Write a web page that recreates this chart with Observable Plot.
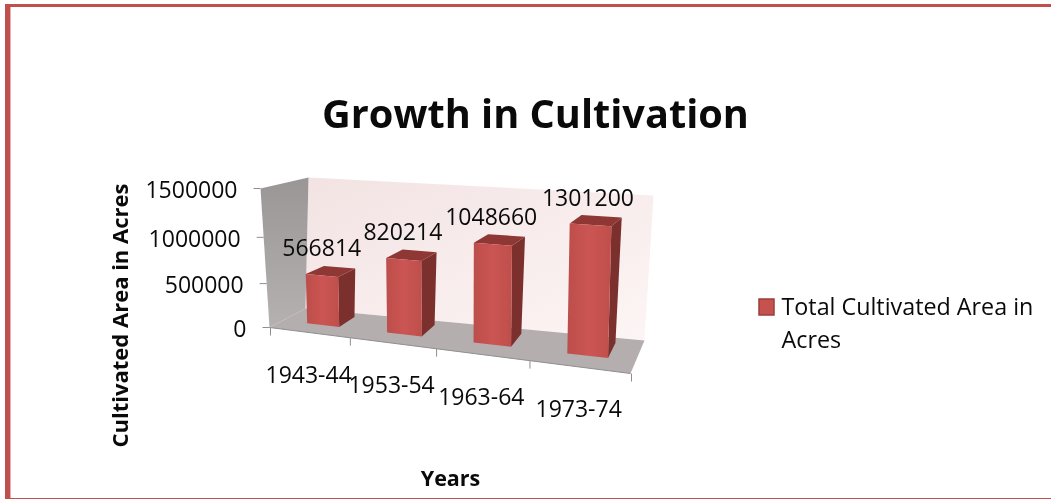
<!DOCTYPE html>
<html>
<head>
<meta charset="utf-8">
<script src="https://cdn.jsdelivr.net/npm/d3@7"></script>
<script src="https://cdn.jsdelivr.net/npm/@observablehq/plot@0.6"></script>
<style>
html,body{margin:0;padding:0;background:#fff;overflow:hidden}
#page{position:relative;width:1051px;height:499px;overflow:hidden}
#page svg{position:absolute;left:0;top:0;background:transparent;filter:blur(.35px);font-variant-ligatures:none}
.edge{position:absolute;background:#c0504d}
</style>
</head>
<body>
<div id="page">
  <div class="edge" style="left:5px;top:4px;width:1046px;height:3px"></div>
  <div class="edge" style="left:5px;top:4px;width:5px;height:495px"></div>
  <div class="edge" style="left:10px;top:7px;width:1px;height:492px;opacity:.45"></div>
  <div class="edge" style="left:5px;top:498px;width:1046px;height:1px"></div>
</div>
<script>
// ---- chart data ----
const chartTitle = "Growth in Cultivation";
const years = ["1943-44", "1953-54", "1963-64", "1973-74"];
const cultivated = [566814, 820214, 1048660, 1301200];
const valueTicks = [0, 500000, 1000000, 1500000];
const xTitle = "Years";
const yTitle = "Cultivated Area in Acres";
const legendLines = ["Total Cultivated Area in", "Acres"];

// ---- perspective of the 3-D box: its eight corners on screen ----
const W = 1051, H = 499, vMax = 1500000;
const box = {
  fl0: [269, 327], fr0: [630, 373], bl0: [305, 308], br0: [644, 340],
  fl1: [260, 188], fr1: [632, 212], bl1: [308, 177], br1: [653, 195]
};
const warp = (t, g) => t * g / (1 + t * (g - 1));
const mix = (a, b, t) => [a[0] + (b[0] - a[0]) * t, a[1] + (b[1] - a[1]) * t];
function P(slot, value, depth) {
  const s = warp(slot / years.length, 0.852);
  const v = warp(value / vMax, 0.923);
  const low = mix(mix(box.fl0, box.fr0, s), mix(box.bl0, box.br0, s), depth);
  const high = mix(mix(box.fl1, box.fr1, s), mix(box.bl1, box.br1, s), depth);
  const p = mix(low, high, v);
  return {x: p[0], y: p[1]};
}
const barU = [0.32, 0.73], barW = [0.37, 0.84];

const faceMark = (faces, fill) => Plot.line(faces.flatMap((f, i) => f.map(p => ({...p, id: i}))),
  {x: "x", y: "y", z: "id", fill, stroke: "none"});

const fronts = cultivated.map((v, i) => {
  const a = i + barU[0], b = i + barU[1], w = barW[0];
  return [P(a, 0, w), P(b, 0, w), P(b, v, w), P(a, v, w)];
});
const sides = cultivated.map((v, i) => {
  const b = i + barU[1];
  return [P(b, 0, barW[0]), P(b, 0, barW[1]), P(b, v, barW[1]), P(b, v, barW[0])];
});
const tops = cultivated.map((v, i) => {
  const a = i + barU[0], b = i + barU[1];
  return [P(a, v, barW[0]), P(b, v, barW[0]), P(b, v, barW[1]), P(a, v, barW[1])];
});

const n = years.length;
const gradient = (id, x2, y2, stops) => {
  const g = d3.create("svg:linearGradient").attr("id", id)
    .attr("x1", 0).attr("y1", 0).attr("x2", x2).attr("y2", y2);
  stops.forEach(([o, c]) => g.append("stop").attr("offset", o).attr("stop-color", c));
  return g.node();
};
const defs = () => {
  const d = d3.create("svg:defs");
  d.append(() => gradient("wallBack", 1, 1, [[0, "#f3e3e3"], [1, "#fdf5f5"]]));
  d.append(() => gradient("wallLeft", 0, 1, [[0, "#9a9696"], [1, "#b5b1b1"]]));
  d.append(() => gradient("barFront", 1, 0, [[0, "#bd4e4b"], [0.5, "#cb5552"], [1, "#bf4f4c"]]));
  return d.node();
};

const textStyle = {fontFamily: "'Open Sans', sans-serif", fill: "#0a0a0a"};
const legendBox = {x1: 759, x2: 774, y1: 299, y2: 315};

const chart = Plot.plot({
  width: W, height: H, margin: 0,
  style: {background: "transparent"},
  x: {domain: [0, W], range: [0, W], axis: null},
  y: {domain: [0, H], range: [0, H], axis: null},
  marks: [
    defs,
    faceMark([[P(0, 0, 1), P(n, 0, 1), P(n, vMax, 1), P(0, vMax, 1)]], "url(#wallBack)"),
    faceMark([[P(0, 0, 0), P(0, 0, 1), P(0, vMax, 1), P(0, vMax, 0)]], "url(#wallLeft)"),
    faceMark([[P(0, 0, 0), P(n, 0, 0), P(n, 0, 1), P(0, 0, 1)]], "#b4aeae"),
    // axis lines and ticks
    Plot.link([0], {x1: () => P(0, 0, 0).x, y1: () => P(0, 0, 0).y, x2: () => P(n, 0, 0).x, y2: () => P(n, 0, 0).y, stroke: "#8f8f8f"}),
    Plot.link(valueTicks, {x1: d => P(0, d, 0).x, y1: d => P(0, d, 0).y, x2: d => P(0, d, 0).x - 7, y2: d => P(0, d, 0).y, stroke: "#8f8f8f"}),
    Plot.link(d3.range(n + 1), {x1: d => P(d, 0, 0).x + 1, y1: d => P(d, 0, 0).y, x2: d => P(d, 0, 0).x + 1, y2: d => P(d, 0, 0).y + 8, stroke: "#8f8f8f"}),
    // bars, each drawn side, top, front
    faceMark(sides, "#7c302e"),
    faceMark(tops, "#8e3734"),
    faceMark(fronts, "url(#barFront)"),
    // value labels
    Plot.text(cultivated, {
      x: (d, i) => P(i + 0.5, d, 0.5).x, y: (d, i) => P(i + 0.5, d, 0.5).y,
      text: d => String(d), dx: -3, dy: -24, fontSize: 23, ...textStyle
    }),
    // value axis labels
    Plot.text(valueTicks, {
      x: d => P(0, d, 0).x, y: d => P(0, d, 0).y,
      text: d => String(d), textAnchor: "end", dx: -23, dy: 2, fontSize: 23, ...textStyle
    }),
    // category labels
    Plot.text(years, {
      x: (d, i) => P(i + 0.5, 0, 0).x, y: (d, i) => P(i + 0.5, 0, 0).y,
      text: d => d, dy: 43, fontSize: 23, ...textStyle
    }),
    // titles
    Plot.text([chartTitle], {x: [535], y: [115], text: d => d, fontSize: 39.7, fontWeight: 700, ...textStyle}),
    Plot.text([xTitle], {x: [450], y: [479], text: d => d, fontSize: 21.5, fontWeight: 700, ...textStyle}),
    Plot.text([yTitle], {x: [120], y: [315], text: d => d, rotate: -90, fontSize: 22, fontWeight: 700, ...textStyle}),
    // legend
    Plot.rect([legendBox], {x1: "x1", x2: "x2", y1: "y1", y2: "y2", fill: "#c5524f", stroke: "#9a3f3c", strokeWidth: 1.5}),
    Plot.text(legendLines, {x: [781, 781], y: [307, 340], text: d => d, textAnchor: "start", fontSize: 23.3, ...textStyle})
  ]
});
document.getElementById("page").appendChild(chart);
</script>
</body>
</html>
